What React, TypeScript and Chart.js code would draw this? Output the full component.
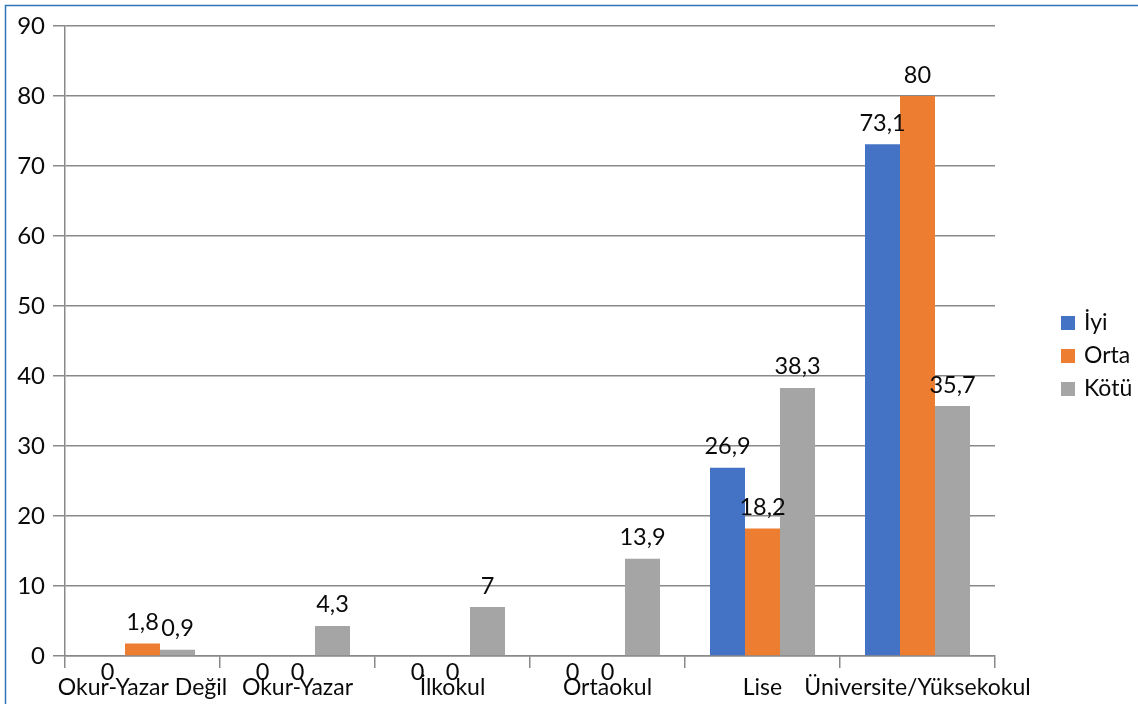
import React, { useEffect, useRef } from "react";
import { Chart, registerables } from "chart.js";

Chart.register(...registerables);

const categories = [
  "Okur-Yazar Değil",
  "Okur-Yazar",
  "İlkokul",
  "Ortaokul",
  "Lise",
  "Üniversite/Yüksekokul",
];
const seriesNames = ["İyi", "Orta", "Kötü"];
const iyiValues = [0, 0, 0, 0, 26.9, 73.1];
const ortaValues = [1.8, 0, 0, 0, 18.2, 80];
const kotuValues = [0.9, 4.3, 7, 13.9, 38.3, 35.7];
const seriesColors = ["#4472C4", "#ED7D31", "#A5A5A5"];
const yTicksMax = 90;
const yTicksStep = 10;

const FONT = "Lato, 'Open Sans', sans-serif";

export default function App() {
  const ref = useRef<HTMLCanvasElement | null>(null);

  useEffect(() => {
    document.body.style.margin = "0";
    const canvas = ref.current;
    if (!canvas) return;

    const framePlugin = {
      id: "frame",
      afterDraw(chart: any) {
        const ctx = chart.ctx;
        ctx.save();
        ctx.strokeStyle = "#2E75B6";
        ctx.lineWidth = 1.5;
        ctx.beginPath();
        ctx.moveTo(5.5, chart.height);
        ctx.lineTo(5.5, 5.5);
        ctx.lineTo(chart.width, 5.5);
        ctx.stroke();
        ctx.restore();
      },
    };

    const labelPlugin = {
      id: "valueLabels",
      afterDatasetsDraw(chart: any) {
        const ctx = chart.ctx;
        const base = chart.scales.y.getPixelForValue(0);
        ctx.save();
        ctx.font = `23.5px ${FONT}`;
        ctx.fillStyle = "#0a0a0a";
        ctx.textAlign = "center";
        ctx.textBaseline = "middle";
        chart.data.datasets.forEach((ds: any, i: number) => {
          const meta = chart.getDatasetMeta(i);
          meta.data.forEach((el: any, j: number) => {
            const v = ds.data[j];
            const txt = String(v).replace(".", ",");
            const y = v === 0 ? base + 16 : el.y - 21;
            ctx.fillText(txt, el.x, y);
          });
        });
        ctx.restore();
      },
    };

    const legendPlugin = {
      id: "customLegend",
      afterDraw(chart: any) {
        const ctx = chart.ctx;
        ctx.save();
        ctx.font = `23px ${FONT}`;
        ctx.textBaseline = "middle";
        ctx.textAlign = "left";
        const startY = 323;
        const gap = 33;
        chart.data.datasets.forEach((ds: any, i: number) => {
          const cy = startY + i * gap;
          ctx.fillStyle = ds.backgroundColor;
          ctx.fillRect(1061, cy - 7, 14, 14);
          ctx.fillStyle = "#0a0a0a";
          ctx.fillText(ds.label, 1084, cy);
        });
        ctx.restore();
      },
    };

    const chart = new Chart(canvas, {
      type: "bar",
      data: {
        labels: categories,
        datasets: [
          { label: seriesNames[0], data: iyiValues, backgroundColor: seriesColors[0] },
          { label: seriesNames[1], data: ortaValues, backgroundColor: seriesColors[1] },
          { label: seriesNames[2], data: kotuValues, backgroundColor: seriesColors[2] },
        ],
      },
      options: {
        animation: false,
        responsive: false,
        maintainAspectRatio: false,
        layout: { padding: { left: 0, right: 143, top: 26, bottom: 0 } },
        datasets: {
          bar: { categoryPercentage: 105 / 155, barPercentage: 1 },
        },
        plugins: {
          legend: { display: false },
          tooltip: { enabled: false },
        },
        scales: {
          x: {
            grid: {
              offset: true,
              drawOnChartArea: false,
              drawTicks: true,
              tickLength: 12,
              color: "#898989",
              lineWidth: 1.5,
            },
            border: { color: "#898989", width: 1.5 },
            ticks: {
              font: { family: FONT, size: 23 },
              color: "#0a0a0a",
              padding: 6,
              maxRotation: 0,
              autoSkip: false,
            },
            afterFit(scale: any) {
              scale.height = 48;
            },
          },
          y: {
            min: 0,
            max: yTicksMax,
            ticks: {
              stepSize: yTicksStep,
              font: { family: FONT, size: 24 },
              color: "#0a0a0a",
              padding: 8,
            },
            grid: {
              color: "#898989",
              lineWidth: 1.5,
              tickLength: 12,
            },
            border: { color: "#898989", width: 1.5 },
            afterFit(scale: any) {
              scale.width = 65;
            },
          },
        },
      },
      plugins: [labelPlugin, legendPlugin, framePlugin],
    } as any);

    return () => chart.destroy();
  }, []);

  return <canvas ref={ref} width={1138} height={704} style={{ display: "block" }} />;
}
